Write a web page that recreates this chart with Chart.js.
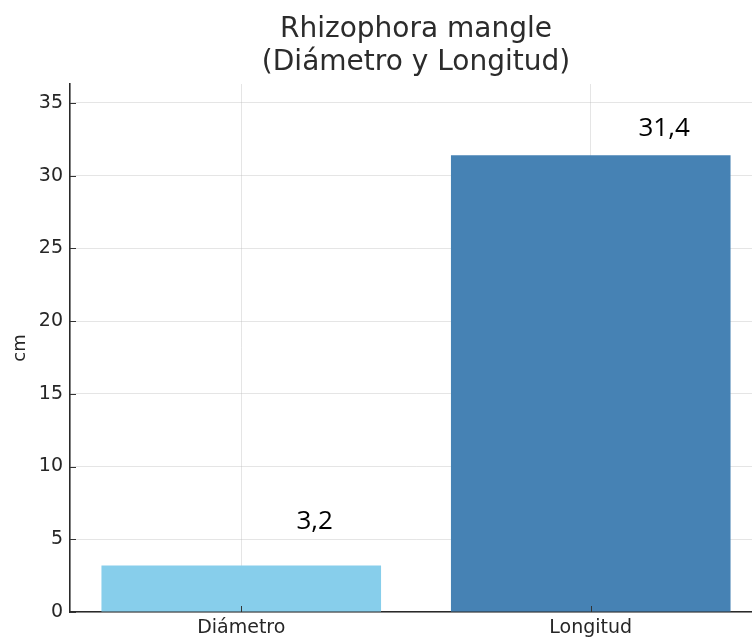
<!DOCTYPE html>
<html>
<head>
<meta charset="utf-8">
<script src="https://cdn.jsdelivr.net/npm/chart.js@4/dist/chart.umd.min.js"></script>
<style>
  html, body { margin: 0; padding: 0; background: #ffffff; overflow: hidden; }
  #wrap { width: 752px; height: 643px; overflow: hidden; }
  canvas { display: block; }
</style>
</head>
<body>
<div id="wrap"><canvas id="c" width="762" height="643"></canvas></div>
<script>
// Measurements of the Rhizophora mangle sample
const categories = ['Diámetro', 'Longitud'];
const values = [3.2, 31.4];
const barColors = ['#87CEEB', '#4682B4'];
const yTicks = [0, 5, 10, 15, 20, 25, 30, 35];
const titleLines = ['Rhizophora mangle', '(Diámetro y Longitud)'];
const yTitle = 'cm';

const AXIS_FONT = "'DejaVu Sans', sans-serif";
const INK = '#262626';

// Short tick marks pointing into the plot area
const innerTicks = {
  id: 'innerTicks',
  afterDraw(chart) {
    const { ctx, chartArea, scales } = chart;
    ctx.save();
    ctx.strokeStyle = '#333333';
    ctx.lineWidth = 1;
    ctx.beginPath();
    scales.y.ticks.forEach(t => {
      const y = Math.round(scales.y.getPixelForValue(t.value)) + 0.5;
      ctx.moveTo(chartArea.left, y);
      ctx.lineTo(chartArea.left + 6, y);
    });
    scales.x.ticks.forEach(t => {
      const x = Math.round(scales.x.getPixelForValue(t.value)) + 0.5;
      ctx.moveTo(x, chartArea.bottom);
      ctx.lineTo(x, chartArea.bottom - 6);
    });
    ctx.stroke();
    ctx.restore();
  }
};

// Value captions written beside each bar
const valueCaptions = {
  id: 'valueCaptions',
  afterDraw(chart, args, opts) {
    const { ctx, scales } = chart;
    ctx.save();
    ctx.font = opts.font;
    ctx.fillStyle = opts.color;
    ctx.textAlign = 'center';
    ctx.textBaseline = 'middle';
    values.forEach((v, i) => {
      const x = scales.x.getPixelForValue(i + opts.shiftX);
      const y = scales.y.getPixelForValue(v + opts.lift[i]);
      ctx.fillText(String(v).replace('.', ','), x, y);
    });
    ctx.restore();
  }
};

new Chart(document.getElementById('c'), {
  type: 'bar',
  data: {
    datasets: [{
      data: categories.map((c, i) => ({ x: i, y: values[i] })),
      backgroundColor: barColors,
      borderWidth: 0,
      barPercentage: 0.8,
      categoryPercentage: 1.0
    }]
  },
  options: {
    responsive: false,
    animation: false,
    layout: { padding: 0 },
    plugins: {
      legend: { display: false },
      tooltip: { enabled: false },
      title: {
        display: true,
        fullSize: false,
        text: titleLines,
        color: '#2b2b2b',
        font: { family: AXIS_FONT, size: 28, weight: 'normal', lineHeight: 1.15 },
        padding: { top: 14, bottom: 5.6 }
      },
      valueCaptions: {
        font: "26px 'Open Sans', sans-serif",
        color: '#000000',
        shiftX: 0.21,
        lift: [3.0, 1.8]
      }
    },
    scales: {
      x: {
        type: 'linear',
        min: -0.49,
        max: 1.49,
        offset: false,
        z: 1,
        afterFit(s) { s.height = 31; },
        afterBuildTicks(s) {
          s.ticks = categories.map((c, i) => ({ value: i }));
        },
        ticks: {
          autoSkip: false,
          padding: 5,
          color: INK,
          font: { family: AXIS_FONT, size: 19 },
          callback: (v) => categories[v] ?? ''
        },
        grid: {
          offset: false,
          color: 'rgba(190,190,190,0.4)',
          lineWidth: 1,
          drawTicks: false
        },
        border: { display: true, color: '#2a2a2a', width: 1.6 }
      },
      y: {
        min: 0,
        max: 36.3,
        z: 1,
        afterFit(s) { s.width = 70; },
        afterBuildTicks(s) {
          s.ticks = yTicks.map(v => ({ value: v }));
        },
        ticks: {
          padding: 7,
          color: INK,
          font: { family: AXIS_FONT, size: 19 }
        },
        grid: {
          color: 'rgba(190,190,190,0.4)',
          lineWidth: 1,
          drawTicks: false
        },
        border: { display: true, color: '#2a2a2a', width: 1.6 },
        title: {
          display: true,
          text: yTitle,
          color: INK,
          font: { family: AXIS_FONT, size: 18 },
          padding: { top: 10, bottom: 0 }
        }
      }
    }
  },
  plugins: [innerTicks, valueCaptions]
});
</script>
</body>
</html>
